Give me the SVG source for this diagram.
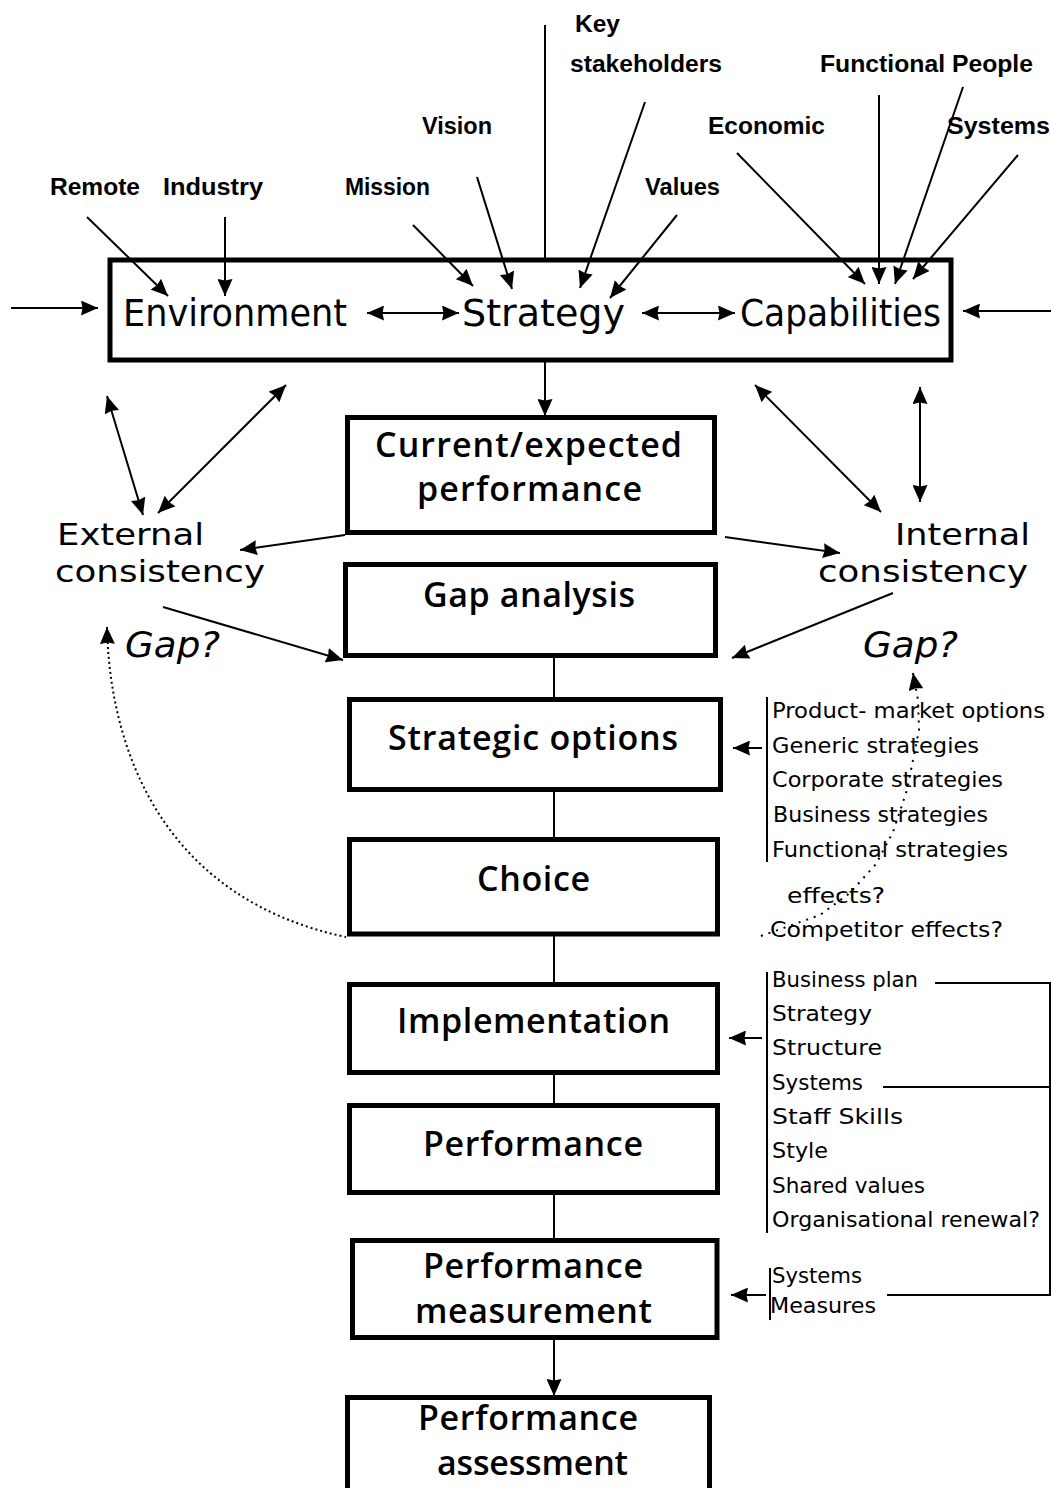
<svg xmlns="http://www.w3.org/2000/svg" width="1051" height="1488" viewBox="0 0 1051 1488">
<defs>
<marker id="arr" markerUnits="userSpaceOnUse" markerWidth="17" markerHeight="15" refX="17" refY="7.5" orient="auto-start-reverse" viewBox="0 0 17 15">
<path d="M0,0 L17,7.5 L0,15 L1.5,7.5 z" fill="#000"/>
</marker>
<style>
.box{fill:#fff;stroke:#000;stroke-width:5}
.ln{fill:none;stroke:#000;stroke-width:2}
.dot{fill:none;stroke:#000;stroke-width:2;stroke-dasharray:2 3}
.dot2{fill:none;stroke:#000;stroke-width:2;stroke-dasharray:2 6}
.bl{font-family:"Open Sans","DejaVu Sans",sans-serif;font-weight:600;font-size:34px;fill:#000}
.big{font-family:"DejaVu Sans",sans-serif;font-size:37px;fill:#000}
.sm{font-family:"Liberation Sans",Arial,sans-serif;font-weight:700;font-size:23px;fill:#000}
.cons{font-family:"DejaVu Sans",sans-serif;font-size:30px;fill:#000}
.gap{font-family:"DejaVu Sans",sans-serif;font-style:oblique;font-size:36px;fill:#000}
.lst{font-family:"DejaVu Sans",sans-serif;font-size:21px;fill:#000}
</style>
</defs>

<g id="top-box">
<rect class="box" x="110" y="260" width="841" height="100"/>
<text class="big" x="123" y="326" textLength="224" lengthAdjust="spacingAndGlyphs">Environment</text>
<text class="big" x="462" y="326" textLength="163" lengthAdjust="spacingAndGlyphs">Strategy</text>
<text class="big" x="740" y="326" textLength="201" lengthAdjust="spacingAndGlyphs">Capabilities</text>
</g>

<g id="inputs">
<text class="sm" x="575" y="32" textLength="45" lengthAdjust="spacingAndGlyphs">Key</text>
<text class="sm" x="570" y="72" textLength="152" lengthAdjust="spacingAndGlyphs">stakeholders</text>
<text class="sm" x="820" y="72" textLength="213" lengthAdjust="spacingAndGlyphs">Functional People</text>
<text class="sm" x="422" y="134" textLength="70" lengthAdjust="spacingAndGlyphs">Vision</text>
<text class="sm" x="708" y="134" textLength="117" lengthAdjust="spacingAndGlyphs">Economic</text>
<text class="sm" x="947" y="134" textLength="103" lengthAdjust="spacingAndGlyphs">Systems</text>
<text class="sm" x="50" y="195" textLength="90" lengthAdjust="spacingAndGlyphs">Remote</text>
<text class="sm" x="163" y="195" textLength="100" lengthAdjust="spacingAndGlyphs">Industry</text>
<text class="sm" x="345" y="195" textLength="85" lengthAdjust="spacingAndGlyphs">Mission</text>
<text class="sm" x="645" y="195" textLength="75" lengthAdjust="spacingAndGlyphs">Values</text>
</g>

<g id="external-consistency">
<text class="cons" x="57" y="545" textLength="147" lengthAdjust="spacingAndGlyphs">External</text>
<text class="cons" x="55" y="582" textLength="210" lengthAdjust="spacingAndGlyphs">consistency</text>
<text class="gap" x="125" y="657" textLength="95" lengthAdjust="spacingAndGlyphs">Gap?</text>
</g>

<g id="internal-consistency">
<text class="cons" x="895" y="545" textLength="135" lengthAdjust="spacingAndGlyphs">Internal</text>
<text class="cons" x="818" y="582" textLength="210" lengthAdjust="spacingAndGlyphs">consistency</text>
<text class="gap" x="863" y="657" textLength="95" lengthAdjust="spacingAndGlyphs">Gap?</text>
</g>

<g id="current-performance">
<rect class="box" x="347.5" y="417.5" width="367" height="115"/>
<text class="bl" x="375" y="457" textLength="307">Current/expected</text>
<text class="bl" x="417" y="501" textLength="225">performance</text>
</g>
<g id="gap-analysis">
<rect class="box" x="345.5" y="564.5" width="370" height="91"/>
<text class="bl" x="423" y="607" textLength="212">Gap analysis</text>
</g>
<g id="strategic-options">
<rect class="box" x="349.5" y="699.5" width="371" height="90"/>
<text class="bl" x="388" y="750" textLength="290">Strategic options</text>
</g>
<g id="choice">
<rect class="box" x="349.5" y="839.5" width="368" height="94.5"/>
<text class="bl" x="477" y="891" textLength="113">Choice</text>
</g>
<g id="implementation">
<rect class="box" x="349.5" y="984.5" width="368" height="88"/>
<text class="bl" x="397" y="1033" textLength="273">Implementation</text>
</g>
<g id="performance">
<rect class="box" x="349.5" y="1105.5" width="368" height="87"/>
<text class="bl" x="423" y="1156" textLength="220">Performance</text>
</g>
<g id="performance-measurement">
<rect class="box" x="352.5" y="1240.5" width="364.5" height="97"/>
<text class="bl" x="423" y="1278" textLength="220">Performance</text>
<text class="bl" x="415" y="1323" textLength="237">measurement</text>
</g>
<g id="performance-assessment">
<rect class="box" x="347.5" y="1397.5" width="362" height="110"/>
<text class="bl" x="418" y="1430" textLength="220">Performance</text>
<text class="bl" x="437" y="1475" textLength="191">assessment</text>
</g>

<g id="options-list">
<text class="lst" x="772" y="718" textLength="273" lengthAdjust="spacingAndGlyphs">Product- market options</text>
<text class="lst" x="772" y="753" textLength="207" lengthAdjust="spacingAndGlyphs">Generic strategies</text>
<text class="lst" x="772" y="787" textLength="231" lengthAdjust="spacingAndGlyphs">Corporate strategies</text>
<text class="lst" x="773" y="822" textLength="215" lengthAdjust="spacingAndGlyphs">Business strategies</text>
<text class="lst" x="772" y="857" textLength="236" lengthAdjust="spacingAndGlyphs">Functional strategies</text>
<text class="lst" x="787" y="903" textLength="98" lengthAdjust="spacingAndGlyphs">effects?</text>
<text class="lst" x="770" y="937" textLength="233" lengthAdjust="spacingAndGlyphs">Competitor effects?</text>
</g>

<g id="implementation-list">
<text class="lst" x="772" y="987" textLength="146" lengthAdjust="spacingAndGlyphs">Business plan</text>
<text class="lst" x="772" y="1021" textLength="100" lengthAdjust="spacingAndGlyphs">Strategy</text>
<text class="lst" x="772" y="1055" textLength="110" lengthAdjust="spacingAndGlyphs">Structure</text>
<text class="lst" x="772" y="1090" textLength="91" lengthAdjust="spacingAndGlyphs">Systems</text>
<text class="lst" x="772" y="1124" textLength="131" lengthAdjust="spacingAndGlyphs">Staff Skills</text>
<text class="lst" x="772" y="1158" textLength="56" lengthAdjust="spacingAndGlyphs">Style</text>
<text class="lst" x="772" y="1193" textLength="153" lengthAdjust="spacingAndGlyphs">Shared values</text>
<text class="lst" x="772" y="1227" textLength="268" lengthAdjust="spacingAndGlyphs">Organisational renewal?</text>
</g>

<g id="measurement-list">
<text class="lst" x="772" y="1283" textLength="90" lengthAdjust="spacingAndGlyphs">Systems</text>
<text class="lst" x="770" y="1313" textLength="106" lengthAdjust="spacingAndGlyphs">Measures</text>
</g>

<g id="connectors">
<line class="ln" x1="87" y1="217" x2="168" y2="296" marker-end="url(#arr)"/>
<line class="ln" x1="225" y1="217" x2="225" y2="296" marker-end="url(#arr)"/>
<line class="ln" x1="413" y1="225" x2="473" y2="286" marker-end="url(#arr)"/>
<line class="ln" x1="477" y1="177" x2="512" y2="289" marker-end="url(#arr)"/>
<line class="ln" x1="545" y1="25" x2="545" y2="258"/>
<line class="ln" x1="645" y1="102" x2="580" y2="288" marker-end="url(#arr)"/>
<line class="ln" x1="677" y1="215" x2="610" y2="298" marker-end="url(#arr)"/>
<line class="ln" x1="737" y1="153" x2="865" y2="284" marker-end="url(#arr)"/>
<line class="ln" x1="879" y1="95" x2="879" y2="284" marker-end="url(#arr)"/>
<line class="ln" x1="963" y1="87" x2="895" y2="284" marker-end="url(#arr)"/>
<line class="ln" x1="1018" y1="155" x2="913" y2="279" marker-end="url(#arr)"/>
<line class="ln" x1="11" y1="308" x2="98" y2="308" marker-end="url(#arr)"/>
<line class="ln" x1="1051" y1="311" x2="963" y2="311" marker-end="url(#arr)"/>
<line class="ln" x1="367" y1="313" x2="459" y2="313" marker-start="url(#arr)" marker-end="url(#arr)"/>
<line class="ln" x1="642" y1="313" x2="735" y2="313" marker-start="url(#arr)" marker-end="url(#arr)"/>
<line class="ln" x1="107" y1="396" x2="143" y2="515" marker-start="url(#arr)" marker-end="url(#arr)"/>
<line class="ln" x1="286" y1="385" x2="158" y2="513" marker-start="url(#arr)" marker-end="url(#arr)"/>
<line class="ln" x1="345" y1="535" x2="240" y2="550" marker-end="url(#arr)"/>
<line class="ln" x1="163" y1="607" x2="343" y2="660" marker-end="url(#arr)"/>
<line class="ln" x1="755" y1="385" x2="881" y2="512" marker-start="url(#arr)" marker-end="url(#arr)"/>
<line class="ln" x1="920" y1="387" x2="920" y2="502" marker-start="url(#arr)" marker-end="url(#arr)"/>
<line class="ln" x1="725" y1="537" x2="840" y2="553" marker-end="url(#arr)"/>
<line class="ln" x1="893" y1="593" x2="732" y2="658" marker-end="url(#arr)"/>
<line class="ln" x1="545" y1="362" x2="545" y2="416" marker-end="url(#arr)"/>
<line class="ln" x1="554" y1="657" x2="554" y2="698"/>
<line class="ln" x1="554" y1="791" x2="554" y2="838"/>
<line class="ln" x1="554" y1="935" x2="554" y2="983"/>
<line class="ln" x1="554" y1="1074" x2="554" y2="1104"/>
<line class="ln" x1="554" y1="1194" x2="554" y2="1239"/>
<line class="ln" x1="554" y1="1339" x2="554" y2="1396" marker-end="url(#arr)"/>
<path class="dot" d="M107,627 C110,760 170,900 346,937" marker-start="url(#arr)"/>
<path class="dot2" d="M913,673 L918,700 L919,730 L912,765 L907,790 L893,832 L876,864 L850,893 L820,915 L758,937" marker-start="url(#arr)"/>
<line class="ln" x1="767" y1="697" x2="767" y2="862"/>
<line class="ln" x1="762" y1="748" x2="733" y2="748" marker-end="url(#arr)"/>
<line class="ln" x1="767" y1="972" x2="767" y2="1233"/>
<line class="ln" x1="762" y1="1038" x2="729" y2="1038" marker-end="url(#arr)"/>
<line class="ln" x1="770" y1="1268" x2="770" y2="1320"/>
<line class="ln" x1="766" y1="1295" x2="731" y2="1295" marker-end="url(#arr)"/>
<polyline class="ln" points="935,983 1050,983 1050,1295 887,1295"/>
<line class="ln" x1="883" y1="1087" x2="1050" y2="1087"/>
</g>
</svg>
